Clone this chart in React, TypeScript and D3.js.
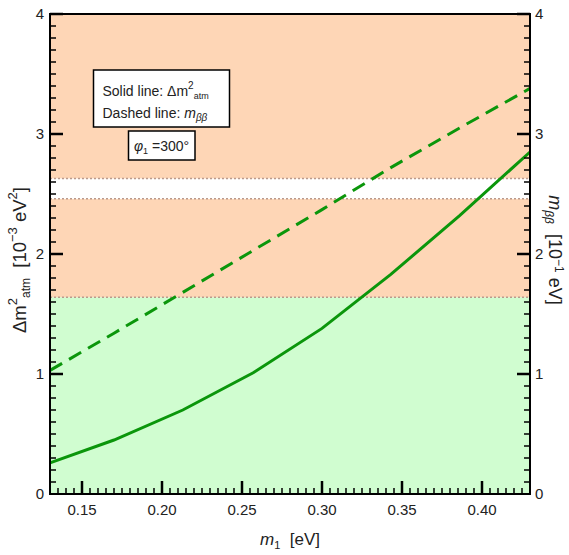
import React from "react";
import * as d3 from "d3";

const M1 = [0.13, 0.17, 0.213, 0.257, 0.3, 0.343, 0.386, 0.43];
const DM2_ATM = [0.26, 0.45, 0.7, 1.01, 1.38, 1.83, 2.32, 2.85];
const M_BB = [1.03, 1.34, 1.68, 2.03, 2.37, 2.72, 3.05, 3.38];
const X_TICKS = [0.15, 0.2, 0.25, 0.3, 0.35, 0.4];
const X_TICK_LABELS = ["0.15", "0.20", "0.25", "0.30", "0.35", "0.40"];
const Y_TICKS = [0, 1, 2, 3, 4];
const BAND_LO = [0, 1.64, 2.46, 2.63];
const BAND_HI = [1.64, 2.46, 2.63, 4];
const BAND_KIND = ["green", "orange", "white", "orange"];
const DOTTED = [1.64, 2.46, 2.63];

const W = 569, H = 555;
const L = 50, R = 530, T = 14, B = 494;
const FONT = "'Liberation Sans', Arial, Helvetica, sans-serif";
const LINE = "#0b960b";
const FILLS: Record<string, string> = { green: "#d0fdd0", orange: "#fed6b6", white: "#ffffff" };

export default function App() {
  const x = d3.scaleLinear().domain([0.13, 0.43]).range([L, R]);
  const y = d3.scaleLinear().domain([0, 4]).range([B, T]);
  const line = d3
    .line<number>()
    .x((_, i) => x(M1[i]))
    .y((d) => y(d));

  const xMinor = d3.range(27, 87).map((k) => k * 0.005).filter((v) => v > 0.1301 && v < 0.4299);
  const yMinor = d3.range(1, 40).map((k) => k / 10);

  return (
    <svg width={W} height={H} style={{ position: "absolute", left: 0, top: 0, display: "block" }} fontFamily={FONT}>
      <rect x={0} y={0} width={W} height={H} fill="#fff" />
      {BAND_LO.map((lo, i) => (
        <rect key={"b" + i} x={L} width={R - L} y={y(BAND_HI[i])} height={y(lo) - y(BAND_HI[i])} fill={FILLS[BAND_KIND[i]]} />
      ))}
      {DOTTED.map((v, i) => (
        <line key={"d" + i} x1={L} x2={R} y1={y(v)} y2={y(v)} stroke="#bb9a8c" strokeWidth={1.5} strokeDasharray="2,2" />
      ))}
      <path d={line(M_BB) || ""} fill="none" stroke={LINE} strokeWidth={3} strokeDasharray="14,8" />
      <path d={line(DM2_ATM) || ""} fill="none" stroke={LINE} strokeWidth={3} />

      {/* ticks */}
      {xMinor.map((v, i) => {
        const major = X_TICKS.some((t) => Math.abs(t - v) < 1e-6);
        return <line key={"xm" + i} x1={x(v)} x2={x(v)} y1={B} y2={B - (major ? 13 : 6)} stroke="#000" strokeWidth={major ? 2.5 : 1.5} />;
      })}
      {yMinor.map((v, i) => {
        const major = Y_TICKS.includes(v);
        const len = major ? 13 : 6;
        return (
          <g key={"ym" + i}>
            <line x1={L} x2={L + len} y1={y(v)} y2={y(v)} stroke="#000" strokeWidth={major ? 2.5 : 1.5} />
            <line x1={R} x2={R - len} y1={y(v)} y2={y(v)} stroke="#000" strokeWidth={major ? 2.5 : 1.5} />
          </g>
        );
      })}
      <line x1={L} x2={L + 13} y1={y(4)} y2={y(4)} stroke="#000" strokeWidth={2.5} />
      <line x1={R} x2={R - 13} y1={y(4)} y2={y(4)} stroke="#000" strokeWidth={2.5} />
      <rect x={L} y={T} width={R - L} height={B - T} fill="none" stroke="#000" strokeWidth={2} />

      {/* tick labels */}
      {X_TICKS.map((t, i) => (
        <text key={"xl" + i} x={x(t)} y={B + 21} fontSize={15} textAnchor="middle" fill="#222">
          {X_TICK_LABELS[i]}
        </text>
      ))}
      {Y_TICKS.map((t, i) => (
        <g key={"yl" + i}>
          <text x={L - 6} y={y(t) + 5} fontSize={15} textAnchor="end" fill="#222">{t}</text>
          <text x={R + 5} y={y(t) + 5} fontSize={15} textAnchor="start" fill="#222">{t}</text>
        </g>
      ))}

      {/* axis titles */}
      <text x={290} y={545} fontSize={17} textAnchor="middle" fill="#222">
        <tspan fontStyle="italic">m</tspan>
        <tspan fontSize={11} dy={4}>1</tspan>
        <tspan dy={-4}>{"\u00a0 [eV]"}</tspan>
      </text>
      <text transform="translate(26,260) rotate(-90)" fontSize={18.5} textAnchor="middle" fill="#222">
        <tspan>Δm</tspan>
        <tspan fontSize={13} dy={-9}>2</tspan>
        <tspan fontSize={12} dy={13}>atm</tspan>
        <tspan dy={-4}>{"\u00a0 [10"}</tspan>
        <tspan fontSize={13} dy={-9}>−3</tspan>
        <tspan dy={9}>{"\u00a0eV"}</tspan>
        <tspan fontSize={13} dy={-9}>2</tspan>
        <tspan dy={9}>]</tspan>
      </text>
      <text transform="translate(549,250) rotate(90)" fontSize={18} textAnchor="middle" fill="#222">
        <tspan fontStyle="italic">m</tspan>
        <tspan fontSize={12} dy={4} fontStyle="italic">ββ</tspan>
        <tspan dy={-4}>{"\u00a0 [10"}</tspan>
        <tspan fontSize={12} dy={-6}>−1</tspan>
        <tspan dy={6}>{"\u00a0eV]"}</tspan>
      </text>

      {/* legend */}
      <rect x={93.5} y={70} width={136} height={57} fill="#fff" stroke="#000" strokeWidth={1.5} />
      <text x={102.5} y={96} fontSize={14} fill="#222">
        <tspan>Solid line: Δm</tspan>
        <tspan fontSize={10} dy={-7}>2</tspan>
        <tspan fontSize={9} dy={10}>atm</tspan>
      </text>
      <text x={102.5} y={118} fontSize={14} fill="#222">
        <tspan>Dashed line: </tspan>
        <tspan fontStyle="italic">m</tspan>
        <tspan fontSize={10} dy={3} fontStyle="italic">ββ</tspan>
      </text>
      <rect x={128.5} y={131} width={66.5} height={29} fill="#fff" stroke="#000" strokeWidth={1.5} />
      <text x={161.5} y={151} fontSize={14} textAnchor="middle" fill="#222">
        <tspan fontStyle="italic">φ</tspan>
        <tspan fontSize={9} dy={3}>1</tspan>
        <tspan dy={-3}>{"\u00a0=300°"}</tspan>
      </text>
    </svg>
  );
}
